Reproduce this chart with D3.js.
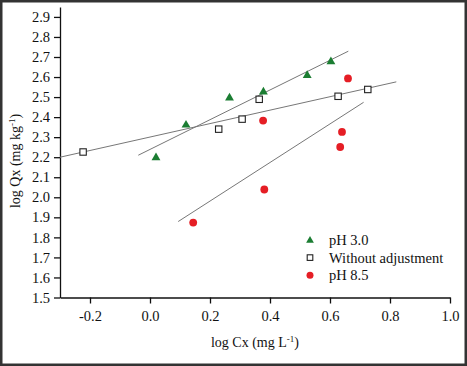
<!DOCTYPE html>
<html>
<head>
<meta charset="utf-8">
<script src="https://cdn.jsdelivr.net/npm/d3@7"></script>
<style>
    body { margin: 0; background: #fff; }
    svg { display: block; }
    text { font-family: "Liberation Serif", "Times New Roman", Times, serif; fill: #111; }
</style>
</head>
<body>
<div id="chart-container"></div>
<script>
// data
var ph30_x = [0.02, 0.12, 0.265, 0.378, 0.524, 0.603];
var ph30_y = [2.20, 2.363, 2.498, 2.528, 2.611, 2.679];

var noadj_x = [-0.223, 0.229, 0.307, 0.364, 0.627, 0.726];
var noadj_y = [2.226, 2.340, 2.390, 2.489, 2.504, 2.538];

var ph85_x = [0.144, 0.377, 0.381, 0.66, 0.64, 0.634];
var ph85_y = [1.874, 2.383, 2.039, 2.593, 2.326, 2.251];

// fitted lines, start and end
var ph30_fit_x = [-0.039, 0.661];
var ph30_fit_y = [2.210, 2.729];
var noadj_fit_x = [-0.3, 0.821];
var noadj_fit_y = [2.200, 2.576];
var ph85_fit_x = [0.094, 0.712];
var ph85_fit_y = [1.879, 2.474];

var x_ticks = [-0.2, 0.0, 0.2, 0.4, 0.6, 0.8, 1.0];
var y_ticks = [1.5, 1.6, 1.7, 1.8, 1.9, 2.0, 2.1, 2.2, 2.3, 2.4, 2.5, 2.6, 2.7, 2.8, 2.9];

var legend_names = ["pH 3.0", "Without adjustment", "pH 8.5"];

var svg_size = {
    'width': 467,
    'height': 366
};

var font_stack = '"Liberation Serif", "Times New Roman", Times, serif';
var color_green = "#1b7d32";
var color_red = "#e51e25";

var svg = d3.select("#chart-container")
    .append("svg")
    .attr('width', svg_size.width)
    .attr('height', svg_size.height);

// outer frame
svg.append('rect')
    .attr('x', 1.25)
    .attr('y', 1.25)
    .attr('width', svg_size.width - 2.5)
    .attr('height', svg_size.height - 2.5)
    .style('fill', '#fff')
    .style('stroke', '#333')
    .style('stroke-width', 2.5);

var x_scale = d3.scaleLinear()
    .domain([-0.3, 1.0])
    .range([60, 450]);

var y_scale = d3.scaleLinear()
    .domain([1.5, 2.95])
    .range([297.5, 6.9]);

var x_axis = d3.axisBottom(x_scale)
    .tickValues(x_ticks)
    .tickFormat(function(d){ return d.toFixed(1); })
    .tickSizeInner(6)
    .tickSizeOuter(0)
    .tickPadding(7);

var y_axis = d3.axisLeft(y_scale)
    .tickValues(y_ticks)
    .tickFormat(function(d){ return d.toFixed(1); })
    .tickSizeInner(6)
    .tickSizeOuter(0)
    .tickPadding(4);

var x_axis_group = svg.append('g')
    .attr('transform', 'translate(0,' + y_scale(1.5) + ')')
    .call(x_axis);

var y_axis_group = svg.append('g')
    .attr('transform', 'translate(' + x_scale(-0.3) + ',0)')
    .call(y_axis);

[x_axis_group, y_axis_group].forEach(function(g){
    g.attr('font-family', font_stack)
        .attr('font-size', 14.5);
    g.selectAll('path, line')
        .style('stroke', '#111')
        .style('stroke-width', 1.3);
    g.selectAll('text')
        .style('font-family', font_stack)
        .style('font-size', '14.5px')
        .style('fill', '#111');
});

// axis labels
svg.append('text')
    .attr('x', 255)
    .attr('y', 347)
    .attr('text-anchor', 'middle')
    .style('font-size', '14px')
    .html('log Cx (mg L<tspan dy="-5" font-size="9px">-1</tspan><tspan dy="5">)</tspan>');

svg.append('text')
    .attr('transform', 'translate(20,161) rotate(-90)')
    .attr('text-anchor', 'middle')
    .style('font-size', '14px')
    .html('log Qx (mg kg<tspan dy="-5" font-size="9px">-1</tspan><tspan dy="5">)</tspan>');

// fit lines
var fits = [
    [ph30_fit_x, ph30_fit_y],
    [noadj_fit_x, noadj_fit_y],
    [ph85_fit_x, ph85_fit_y]
];

svg.selectAll('.fit-line')
    .data(fits)
    .enter()
    .append('line')
    .classed('fit-line', true)
    .attr('x1', function(d){ return x_scale(d[0][0]); })
    .attr('y1', function(d){ return y_scale(d[1][0]); })
    .attr('x2', function(d){ return x_scale(d[0][1]); })
    .attr('y2', function(d){ return y_scale(d[1][1]); })
    .style('stroke', '#777')
    .style('stroke-width', 1);

// markers
var tri = d3.symbol().type(d3.symbolTriangle).size(34);

svg.selectAll('.pt-sq')
    .data(d3.zip(noadj_x, noadj_y))
    .enter()
    .append('rect')
    .classed('pt-sq', true)
    .attr('x', function(d){ return x_scale(d[0]) - 3.2; })
    .attr('y', function(d){ return y_scale(d[1]) - 3.2; })
    .attr('width', 6.4)
    .attr('height', 6.4)
    .style('fill', '#fff')
    .style('stroke', '#222')
    .style('stroke-width', 1.1);

svg.selectAll('.pt-tri')
    .data(d3.zip(ph30_x, ph30_y))
    .enter()
    .append('path')
    .classed('pt-tri', true)
    .attr('d', tri)
    .attr('transform', function(d){
        return 'translate(' + x_scale(d[0]) + ',' + (y_scale(d[1]) + 0.5) + ')';
    })
    .style('fill', color_green);

svg.selectAll('.pt-circ')
    .data(d3.zip(ph85_x, ph85_y))
    .enter()
    .append('circle')
    .classed('pt-circ', true)
    .attr('cx', function(d){ return x_scale(d[0]); })
    .attr('cy', function(d){ return y_scale(d[1]); })
    .attr('r', 3.9)
    .style('fill', color_red);

// legend
var legend = svg.append('g')
    .attr('transform', 'translate(310,240)');

var legend_item = legend.selectAll('.legend-item')
    .data(legend_names)
    .enter()
    .append('g')
    .classed('legend-item', true)
    .attr('transform', function(d, i){
        return 'translate(0,' + (17.6 * i) + ')';
    });

legend_item.filter(function(d, i){ return i == 0; })
    .append('path')
    .attr('d', d3.symbol().type(d3.symbolTriangle).size(26))
    .attr('transform', 'translate(0,0.5)')
    .style('fill', color_green);

legend_item.filter(function(d, i){ return i == 1; })
    .append('rect')
    .attr('x', -2.8)
    .attr('y', -2.8)
    .attr('width', 5.6)
    .attr('height', 5.6)
    .style('fill', '#fff')
    .style('stroke', '#222')
    .style('stroke-width', 1.1);

legend_item.filter(function(d, i){ return i == 2; })
    .append('circle')
    .attr('r', 3.5)
    .style('fill', color_red);

legend_item.append('text')
    .attr('x', 19)
    .attr('y', 0)
    .attr('dominant-baseline', 'central')
    .style('font-size', '14.5px')
    .text(function(d){ return d; });
</script>
</body>
</html>
